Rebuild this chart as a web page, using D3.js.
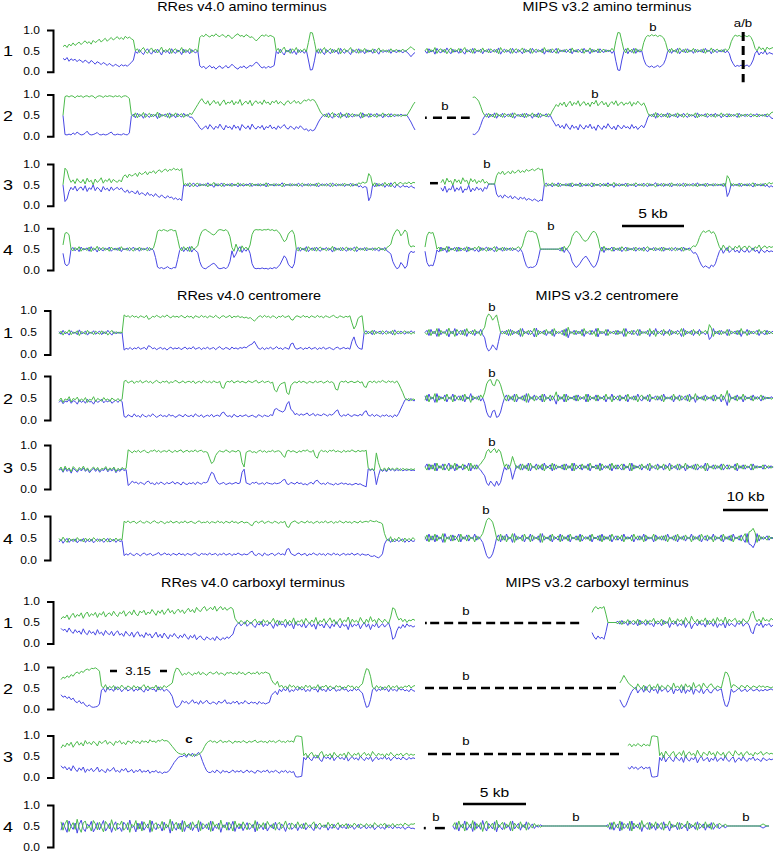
<!DOCTYPE html>
<html><head><meta charset="utf-8">
<script src="https://cdn.jsdelivr.net/npm/d3@7"></script>
<style>body{margin:0;background:#fff}svg{display:block}</style>
</head><body>
<script>
// ---------------- DATA (allele fraction x100, one value per window) ----------------
const rowLabels = ["1","2","3","4"];
const tickValues = [0, 0.5, 1];
const sectionTitles = [
  ["RRes v4.0 amino terminus","MIPS v3.2 amino terminus"],
  ["RRes v4.0 centromere","MIPS v3.2 centromere"],
  ["RRes v4.0 carboxyl terminus","MIPS v3.2 carboxyl terminus"]
];
const windowsPerPanel = 176;
// first window that has data in each MIPS panel (missing sequence before it)
const mipsStart = [[0,24,8,0],[0,0,0,0],[84,98,102,14]];

// RRes amino terminus
const rresAmino1G = [60,64,58,66,62,69,63,67,71,65,70,74,68,72,66,75,70,73,78,71,76,80,73,78,82,76,80,84,78,82,77,85,80,83,79,76,
 50,55,46,53,58,49,44,52,57,48,54,45,51,59,47,53,49,56,44,52,55,47,50,58,45,53,49,56,46,51,54,48,
 82,87,84,90,86,83,88,85,91,86,84,89,87,82,88,85,79,84,88,91,85,87,83,89,86,82,84,79,74,78,84,88,85,89,84,87,85,82,
 50,56,45,53,59,47,52,44,55,50,58,46,53,49,55,48, 70,94,93,72,
 47,55,44,52,58,46,51,56,45,53,48,57,43,51,55,47,52,58,46,50,54,44,53,49,56,46,52,48,55,45,50,57,47,53,49,52,46,55,48,51,53,47,50,54,48,52,56,60,55,52];
const rresAmino1B = [32,28,34,25,31,27,30,24,29,26,22,28,24,20,27,23,18,24,21,17,22,19,15,20,16,13,18,15,12,17,14,16,13,18,22,28,
 49,44,53,46,41,50,55,47,42,51,45,54,48,40,52,46,50,43,55,47,44,52,49,41,54,46,50,43,53,48,45,51,
 14,10,13,7,11,15,9,12,6,11,14,8,10,15,9,12,18,13,9,6,12,10,14,8,11,15,13,18,23,20,13,9,12,8,13,10,12,15,
 49,43,54,46,40,52,47,55,44,50,41,53,46,50,44,51, 28,4,5,26,
 52,44,55,47,41,53,48,43,54,46,51,42,56,48,44,52,47,41,53,49,45,55,46,50,43,53,47,51,44,54,49,42,52,46,50,47,53,44,51,48,46,52,49,45,51,47,42,36,42,46];
const rresAmino2G = [50,95,97,94,97,96,92,97,95,97,93,96,97,94,97,96,91,95,97,96,93,97,95,97,96,94,97,95,97,93,96,97,95,90,
 52,47,56,44,53,49,57,45,51,55,46,53,48,58,44,52,50,47,55,43,53,49,56,46,51,54,45,52,48,55,
 52,60,68,76,84,90,
 82,77,85,74,80,86,78,83,73,81,87,76,82,79,86,75,83,78,88,74,80,84,77,86,73,81,85,78,83,76,87,79,82,75,84,80,86,77,83,79,74,82,85,78,81,86,79,84,77,82,87,84,89,85,88,86,
 78,68,58,52,
 47,54,44,52,57,46,50,55,43,53,48,56,45,51,54,47,52,49,57,44,53,48,55,46,50,53,45,52,49,56,47,51,54,46,50,53,48,52,47,51,49,50,
 58,66,75,82];
const rresAmino2B = [50,4,3,5,3,8,4,10,6,3,4,7,12,5,3,4,6,9,4,3,5,3,4,7,10,4,3,5,4,3,6,4,3,8,
 48,53,44,55,47,51,43,54,49,45,53,47,52,42,55,48,50,53,45,56,47,51,44,54,49,46,55,48,52,45,
 46,40,34,28,20,16,
 20,25,17,28,22,16,24,19,29,21,15,26,20,23,16,27,19,24,14,28,22,18,25,16,29,21,17,24,19,26,15,23,20,27,18,22,16,25,19,23,28,20,17,24,21,16,23,18,25,20,15,18,12,16,13,15,
 24,34,42,48,
 53,46,56,48,43,54,50,45,57,47,52,44,55,49,46,53,48,51,43,56,47,52,45,54,50,47,55,48,51,44,53,49,46,54,50,47,52,48,53,49,51,50,
 42,34,24,15];
const rresAmino3G = [50,90,84,66,
 56,62,53,65,58,55,63,52,66,57,61,50,64,56,60,67,54,62,58,65,55,63,59,56,62,57,
 70,74,67,76,71,73,78,70,80,75,77,82,74,81,79,84,77,83,86,80,85,88,82,87,85,90,86,88,84,89,
 50,53,47,55,49,46,52,54,47,51,48,53,45,52,50,56,47,53,49,46,54,50,48,53,46,52,49,55,47,51,53,48,50,46,54,49,52,47,53,50,48,55,46,51,49,53,47,52,50,45,54,49,51,47,53,48,52,46,50,54,48,51,47,53,49,52,46,55,50,48,52,47,51,54,46,50,53,48,52,47,54,49,51,46,53,50,48,55,52,57,54,56,
 77,70,
 48,55,46,53,50,47,56,49,54,45,52,57,48,54,56,51,55,53,57,52,56,55];
const rresAmino3B = [50,10,16,34,
 44,38,47,35,42,45,37,48,34,43,39,50,36,44,40,33,46,38,42,35,45,37,41,44,38,43,
 36,32,38,30,35,33,28,36,26,31,29,24,32,25,27,22,29,23,20,26,21,18,24,19,21,15,19,14,17,12,
 50,47,53,45,51,54,48,46,53,49,52,47,55,48,50,44,53,47,51,54,46,50,52,47,54,48,51,45,53,49,47,52,50,54,46,51,48,53,47,50,52,45,54,49,51,47,53,48,50,55,46,51,49,53,47,52,48,54,50,46,52,49,53,47,51,48,54,45,50,52,48,53,49,46,54,50,47,52,48,53,46,51,49,54,47,50,52,45,48,43,46,44,
 12,22,
 52,45,54,47,50,53,44,51,46,55,48,43,52,46,44,49,45,47,43,48,44,42];
const rresAmino4G = [60,88,90,84,
 50,46,54,48,56,45,52,50,47,55,44,53,49,57,46,51,54,47,52,45,55,50,48,53,46,56,49,51,47,54,50,45,53,48,55,47,52,50,46,54,49,53,
 70,93,96,94,97,95,93,96,97,94,95,75,
 53,46,56,48,55,44,57,49,54,58,
 80,92,96,97,93,90,86,84,88,95,97,96,94,97,92,80,
 54,45,62,50,44,58,50,55,48,60,
 85,95,97,96,97,95,97,96,98,95,97,94,96,92,86,76,68,72,86,92,95,85,
 50,46,55,48,53,44,56,50,47,54,45,52,55,48,50,46,53,49,57,45,52,48,54,46,51,55,47,53,49,45,56,50,48,52,46,54,49,51,47,53,50,55,48,52,46,54,57,62,
 80,90,97,94,82,88,96,90,
 62,55,58,56];
const rresAmino4B = [40,14,10,16,
 50,54,46,52,44,55,48,50,53,45,56,47,51,43,54,49,46,53,48,55,45,50,52,47,54,44,51,49,53,46,50,55,47,52,45,53,48,50,54,46,51,47,
 30,7,4,6,3,5,8,4,3,6,5,25,
 47,54,44,52,45,56,43,51,46,42,
 20,8,4,3,7,10,14,16,12,5,3,4,6,3,8,20,
 46,30,38,50,56,42,50,45,52,40,
 15,5,3,4,3,5,3,4,2,5,3,6,4,8,14,24,34,28,14,8,5,15,
 50,54,45,52,47,56,44,50,53,46,55,48,45,52,50,54,47,51,43,55,48,52,46,54,49,45,53,47,51,55,44,50,52,48,54,46,51,49,53,47,50,45,52,48,54,46,43,38,
 20,10,3,6,18,12,4,10,
 38,45,42,44];

// MIPS amino terminus
const mipsAmino1G = [50,56,45,53,48,58,44,52,55,47,54,43,51,57,46,53,49,56,45,52,58,47,50,54,44,56,49,52,46,57,48,53,45,55,50,47,54,43,58,50,46,53,49,56,44,52,55,47,51,57,45,53,48,56,44,51,54,47,52,45,58,49,53,46,55,50,44,56,48,52,47,54,50,45,57,48,53,46,51,55,44,52,49,57,46,53,48,55,45,51,54,47,52,49,56,50,
 75,94,93,72,
 52,45,57,48,54,44,56,47,53,50,
 70,82,87,85,89,86,88,84,87,85,81,70,
 52,46,56,48,53,44,57,50,47,55,45,52,49,56,46,53,50,47,55,44,52,49,57,46,51,54,48,53,47,55,50,56,
 72,82,88,85,87,84,88,86,84,87,82,72,
 56,50,60,53,57,49,59,54,56,58];
const mipsAmino1B = [50,44,55,47,52,42,56,48,45,53,46,57,49,43,54,47,51,44,55,48,42,53,50,46,56,44,51,48,54,43,52,47,55,45,50,53,46,57,42,50,54,47,51,44,56,48,45,53,49,43,55,47,52,44,56,49,46,53,48,55,42,51,47,54,45,50,56,44,52,48,53,46,50,55,43,52,47,54,49,45,56,48,51,43,54,47,52,45,55,49,46,53,48,51,44,50,
 25,4,3,28,
 48,55,43,52,46,56,44,53,47,50,
 30,18,13,11,14,10,12,15,11,14,19,30,
 48,54,44,52,47,56,43,50,53,45,55,48,51,44,54,47,50,53,45,56,48,51,43,54,49,46,52,47,53,45,50,44,
 28,19,12,15,13,16,11,14,16,12,18,28,
 44,50,40,47,43,51,41,46,44,42];
const mipsAmino2G = [93,94,90,84,72,58,
 50,46,55,47,53,44,56,48,52,45,55,50,47,54,44,56,50,48,53,46,55,45,52,49,56,47,53,44,55,49,51,46,54,50,
 60,68,76,71,80,74,82,70,78,84,73,81,76,85,72,79,83,74,80,71,82,77,86,73,79,84,75,81,70,78,83,76,85,73,79,82,74,80,77,83,72,81,76,84,78,74,80,70,
 56,48,53,46,57,45,51,54,47,53,44,55,49,52,46,56,48,53,45,51,55,47,52,49,56,44,53,48,51,46,55,50,47,53,45,52,49,56,47,51,54,46,53,48,50,55,45,52,49,53,47,51,54,48,50,46,53,49,52,47,54,50,56,58];
const mipsAmino2B = [5,4,8,14,26,40,
 48,54,44,53,46,56,43,52,47,55,45,50,53,46,56,43,50,52,46,54,44,55,48,51,43,53,46,56,45,51,49,54,46,50,
 40,32,24,29,20,26,18,30,22,16,27,19,24,15,28,21,17,26,20,29,18,23,14,27,21,16,25,19,30,22,17,24,15,27,21,18,26,20,23,17,28,19,24,16,22,26,20,30,
 44,52,47,54,43,55,49,46,53,47,56,45,51,48,54,44,52,47,55,49,45,53,48,51,44,56,47,52,49,54,45,50,53,47,55,48,51,44,53,49,46,54,47,52,50,45,55,48,51,47,53,49,46,52,50,54,47,51,48,53,46,50,44,42];
const mipsAmino3G = [55,63,51,66,57,60,49,64,56,62,52,67,58,61,50,65,57,63,53,60,56,64,54,58,
 52,52,52,52,
 72,80,76,83,74,79,82,76,84,78,81,86,79,84,80,87,83,85,88,84,87,90,86,88,
 50,46,53,48,55,47,52,45,54,49,51,47,53,46,55,50,48,52,45,54,49,53,47,51,55,46,52,48,54,50,47,53,45,52,49,56,47,51,53,48,50,46,54,49,52,47,55,50,48,53,46,51,54,47,52,49,45,53,50,47,54,48,52,46,55,49,51,47,53,50,46,54,48,52,49,47,53,45,52,50,48,54,46,51,49,53,47,52,50,48,54,46,72,65,47,53,49,52,46,54,50,48,53,47,51,55,46,52,49,53,47,54,50,56,52,55];
const mipsAmino3B = [43,35,47,32,41,38,50,34,43,37,46,31,40,38,49,33,42,36,45,38,42,34,44,40,
 52,52,52,52,
 28,21,25,18,26,22,19,24,16,22,19,14,21,16,20,13,17,15,12,16,13,10,14,12,
 50,54,47,52,45,53,48,55,46,51,49,53,47,54,45,50,52,48,55,46,51,47,53,49,45,54,48,52,46,50,53,47,55,48,51,44,53,49,47,52,50,54,46,51,48,53,45,50,52,47,54,49,46,53,48,51,55,47,50,53,46,52,48,54,45,51,49,53,47,50,54,46,52,48,51,53,47,55,48,50,52,46,54,49,51,47,53,48,50,52,46,54,22,32,53,47,51,48,54,46,50,52,47,53,49,45,54,48,51,47,53,46,50,44,48,45];
const mipsAmino4G = [55,82,91,88,90,74,
 50,55,45,53,48,57,44,52,50,46,55,45,53,49,47,56,45,52,48,55,50,57,46,53,49,45,54,47,52,56,44,51,48,55,46,53,50,47,54,49,52,56,50,58,
 76,90,94,92,93,90,88,72,
 50,50,50,50,50,50,50,50,50,50,
 53,45,57,48,55,62,
 80,88,93,90,84,76,70,69,74,82,90,93,88,76,
 53,45,57,47,52,50,45,55,48,53,46,56,50,45,54,48,52,46,55,49,47,53,45,52,56,48,51,46,54,49,53,45,55,48,51,47,54,50,46,53,48,55,45,52,50,47,54,58,56,64,
 78,88,94,90,93,95,88,92,85,70,
 56,48,60,52,46,58,53,48,57,52,59,49,55,57,50,58,53,47,56,52,60,50,55,58,52,57,54,56];
const mipsAmino4B = [45,18,9,12,10,25,
 48,43,55,46,52,42,56,48,50,54,44,55,46,50,53,43,55,48,52,45,50,43,54,47,51,55,46,53,48,44,56,49,52,45,54,47,50,53,46,51,48,44,50,42,
 24,10,5,7,6,8,12,28,
 50,50,50,50,50,50,50,50,50,50,
 46,55,42,52,45,38,
 20,12,6,10,16,24,30,33,26,18,10,6,12,24,
 46,55,42,53,48,50,55,45,52,47,54,44,50,55,46,52,48,54,45,51,53,47,55,48,44,52,49,54,46,51,47,55,45,52,49,53,46,50,54,47,52,45,55,48,50,53,46,40,42,35,
 22,12,6,10,7,4,12,8,15,30,
 44,52,40,48,54,42,47,52,43,48,41,51,45,43,50,42,47,53,44,48,40,50,45,42,48,43,46,44];

// RRes centromere
const rresCen1G = [47,53,44,52,49,56,45,51,48,54,43,52,50,46,55,48,51,45,53,49,46,54,47,52,44,50,55,47,52,48,51,49,
 90,86,88,84,89,85,87,83,88,86,84,89,80,82,87,85,89,86,84,88,85,90,86,83,88,85,87,84,89,86,83,88,85,87,82,88,86,84,89,85,87,83,88,86,84,89,85,82,87,88,84,86,89,83,87,85,88,84,86,83,85,82,84,80,76,80,86,88,84,89,85,87,83,88,86,82,87,85,89,84,86,88,80,78,85,88,86,84,89,85,87,83,88,86,84,89,85,87,83,88,86,84,87,89,85,83,88,86,84,87,85,88,72,58,66,82,86,88,
 50,46,53,48,55,45,52,49,47,54,50,46,52,48,55,44,51,53,47,50,54,48,52,46,50,48];
const rresCen1B = [52,46,55,47,50,44,54,48,51,45,56,47,49,53,44,51,48,54,46,50,53,45,52,47,55,49,44,52,47,51,48,50,
 10,14,12,16,11,15,13,17,12,14,16,11,20,18,13,15,11,14,16,12,15,10,14,17,12,15,13,16,11,14,17,12,15,13,18,12,14,16,11,15,13,17,12,14,16,11,15,18,13,12,16,14,11,17,13,15,12,16,14,17,15,19,22,24,30,22,14,12,16,11,15,13,17,12,14,18,13,15,11,16,14,12,24,26,15,12,14,16,11,15,13,17,12,14,16,11,15,13,17,12,14,16,13,11,15,17,12,14,16,13,15,12,30,40,24,16,13,12,
 50,54,47,52,45,55,48,51,53,46,50,54,48,52,45,56,49,47,53,50,46,52,48,54,50,52];
const rresCen2G = [44,50,40,48,45,53,41,49,46,52,42,48,44,51,40,47,45,53,42,49,46,43,51,45,48,42,50,46,44,49,43,47,
 88,90,84,87,89,83,88,86,90,84,87,89,85,88,83,87,90,86,84,88,86,89,83,87,85,90,88,84,86,89,84,87,88,85,89,83,86,88,84,90,87,85,88,84,89,86,85,88,
 74,72,
 85,88,86,90,84,87,89,85,88,86,84,89,87,85,88,90,84,86,89,85,87,88,84,86,
 68,64,76,82,84,86, 62,58,78,84,
 87,84,89,85,88,86,83,88,86,84,89,85,87,88,84,86,89,85,87,84,
 70,68,
 85,88,86,89,84,87,88,85,86,89,84,87,
 76,74,
 86,88,85,89,84,88,86,90,87,85,89,86,88,84,89,82,72,62,
 50,45,49,44,48,46];
const rresCen2B = [40,45,37,43,41,47,38,44,42,36,46,40,44,38,47,41,42,36,45,40,43,47,39,44,41,46,38,42,45,40,46,42,
 8,6,12,9,7,14,8,10,6,13,9,7,11,8,14,10,6,9,12,8,10,7,13,9,11,6,8,12,10,7,13,9,8,11,7,14,10,8,12,6,9,11,8,13,7,10,11,8,
 16,18,
 11,8,10,6,13,9,7,11,8,10,12,7,9,11,8,6,12,10,7,11,9,8,12,10,
 24,26,22,20,18,22, 36,42,24,20,
 12,15,10,14,11,13,16,10,12,15,9,13,11,10,14,12,9,13,11,14,
 20,23,
 11,8,12,9,14,10,8,12,11,9,13,10,
 18,21,
 11,9,13,8,12,10,7,11,9,12,8,10,6,12,8,15,25,35,
 45,48,43,49,44,44];
const rresCen3G = [44,50,40,52,43,48,39,51,46,41,49,44,52,42,48,40,46,50,43,49,41,47,45,51,42,48,44,50,40,47,43,49,45,47,
 89,86,82,87,84,88,83,86,88,84,82,87,86,89,84,88,83,86,87,84,89,85,83,88,84,87,89,83,86,88,84,87,85,89,84,87,88,84,85,83,
 70,58,62,76,
 83,87,85,84,89,86,83,87,86,84,88,85,
 60,50,
 83,86,87,83,85,82,86,88,84,87,83,86,85,88,84,86,87,84,
 76,72,
 86,88,84,87,85,82,87,84,88,86,89,85,84,88,
 74,70,
 84,88,85,87,83,88,86,89,84,87,85,83,88,84,87,85,89,86,84,88,85,87,86,88,
 48,44,46,42,82,60,46,42,48,41,49,44,47,43,48,45,42,47,44,46,43,46,44,46];
const rresCen3B = [43,46,38,48,40,45,36,47,43,38,46,41,48,40,45,37,43,47,40,46,38,44,42,48,39,45,41,47,37,44,40,46,42,44,
 8,12,18,14,16,11,15,13,10,16,18,12,14,9,15,11,16,13,10,15,12,14,17,11,15,13,9,16,12,10,14,12,15,10,16,13,11,15,14,16,
 28,38,35,22,
 14,11,13,15,10,12,14,11,13,15,12,14,
 38,45,
 14,12,10,15,13,16,11,12,14,10,15,13,12,11,14,12,13,15,
 20,22,
 12,10,15,13,11,16,12,14,10,12,9,13,15,11,
 18,20,
 14,11,13,10,15,12,11,9,13,10,12,14,11,13,10,12,9,11,13,10,12,9,7,5,
 46,42,45,40,10,30,45,40,44,39,46,42,45,41,44,42,46,41,44,42,45,42,43,42];
const rresCen4G = [49,43,52,45,40,50,44,48,42,51,45,47,41,50,44,49,43,51,46,42,48,44,50,45,41,49,46,43,50,44,48,46,
 88,85,89,84,87,88,83,86,89,85,84,88,86,83,87,89,85,84,88,86,82,87,85,89,84,86,88,83,87,85,89,84,86,88,85,83,87,89,84,86,85,88,83,87,86,84,89,85,87,83,88,86,84,89,85,87,83,86,88,84,86,85,
 80,78,
 86,88,84,87,89,83,86,88,85,84,88,86,83,87,85,88,
 76,74,
 84,87,89,85,83,88,86,84,89,85,87,83,86,88,84,87,85,89,84,86,88,83,87,85,89,86,84,88,85,87,83,88,86,84,89,85,87,88,86,90,88,87,89,86,85,82,
 60,48,43,53,41,49,44,52,46,42,50,44,49,45,51,46];
const rresCen4B = [41,47,38,45,49,40,46,42,48,39,45,43,49,40,46,41,47,39,44,48,42,46,40,45,49,41,44,47,40,46,42,44,
 10,14,11,16,12,10,15,13,9,14,16,11,13,15,10,12,14,17,11,13,16,12,14,10,15,13,11,16,12,14,10,15,13,11,14,16,12,10,15,13,14,11,16,12,13,15,10,14,12,16,11,13,15,10,14,12,16,13,11,14,12,13,
 18,20,
 12,10,15,13,9,16,12,11,14,15,10,13,16,12,14,11,
 24,26,
 15,12,10,14,16,11,13,15,9,14,12,16,13,11,15,12,14,10,15,13,11,16,12,14,10,13,15,11,14,12,16,11,13,15,10,14,12,11,13,9,8,10,7,5,8,14,
 36,45,48,40,47,41,46,42,45,48,40,46,41,45,42,44];

// MIPS centromere
const mipsCen1G = [50,45,57,43,53,47,59,41,55,48,52,43,60,47,53,41,57,50,45,55,43,59,48,53,45,57,47,52,43,55,
 62,84,92,88,78,84,90,70,
 50,47,53,45,57,43,55,48,52,45,59,41,53,48,55,45,50,60,40,55,47,52,45,57,48,53,43,59,47,52,50,45,57,41,62,48,52,45,55,47,53,43,59,48,50,55,45,52,41,60,47,53,48,57,43,52,50,47,55,45,53,48,59,41,52,47,55,45,50,57,43,53,48,52,45,59,47,55,41,53,50,45,57,47,52,43,55,48,53,45,50,59,41,55,47,52,45,57,48,53,43,52,50,55,47,68,60,41,53,47,55,45,52,48,57,43,53,50,47,55,45,59,48,52,43,55,47,53,50,45,57,48,52,55,45,53,50,47];
const mipsCen1B = [50,55,43,57,47,53,41,59,45,52,48,57,40,53,47,59,43,50,55,45,57,41,52,47,55,43,53,48,57,45,
 38,16,8,12,22,16,10,30,
 50,53,47,55,43,57,45,52,48,55,41,59,47,52,45,55,50,40,60,45,53,48,55,43,52,47,57,41,53,48,50,55,43,59,38,52,48,55,45,53,47,57,41,52,50,45,55,48,59,40,53,47,52,43,57,48,50,53,45,55,47,52,41,59,48,53,45,55,50,43,57,47,52,48,55,41,53,45,59,47,50,55,43,53,48,57,45,52,47,55,50,41,59,45,53,48,55,43,52,47,57,48,50,45,53,34,40,59,47,53,45,55,48,52,43,57,47,50,53,45,55,41,52,48,57,45,53,47,50,55,43,52,48,45,55,47,50,53];
const mipsCen2G = [45,57,41,53,48,60,40,55,47,52,43,59,48,53,41,57,50,45,55,43,59,47,52,40,55,48,53,45,57,50,
 62,82,90,92,80,78,92,90,80,64,
 50,43,57,47,55,41,59,48,52,45,57,40,60,47,53,43,55,50,45,59,41,53,48,57,45,52,64,43,53,47,59,41,55,48,52,45,57,43,53,50,47,59,41,55,48,53,43,57,47,52,45,59,48,53,41,55,50,45,57,47,52,43,59,48,53,45,55,41,52,57,47,53,43,59,48,50,45,55,47,57,41,53,48,52,45,59,47,53,43,55,50,45,57,41,53,48,60,45,52,47,55,43,53,50,47,57,43,52,48,59,45,53,67,40,52,48,55,43,53,47,59,45,52,48,55,43,53,47,50,57,45,53,48,52,47,50];
const mipsCen2B = [55,43,59,47,52,40,60,45,53,48,57,41,52,47,59,43,50,55,45,57,41,53,48,60,45,52,47,55,43,50,
 38,18,8,6,20,22,6,8,18,36,
 50,57,43,53,45,59,41,52,48,55,43,60,40,53,47,57,45,50,55,41,59,47,52,43,55,48,36,57,47,53,41,59,45,52,48,55,43,57,47,50,53,41,59,45,52,47,57,43,53,48,55,41,52,47,59,45,50,55,43,53,48,57,41,52,47,55,45,59,48,43,53,47,57,41,52,50,55,45,53,43,59,47,52,48,55,41,53,47,57,45,50,55,43,59,47,52,40,55,48,53,45,57,47,50,53,43,57,48,52,41,55,47,33,60,48,52,45,57,47,53,41,55,48,52,45,57,47,53,50,43,55,47,52,48,53,50];
const mipsCen3G = [50,43,57,45,55,41,59,47,53,43,57,50,41,55,47,59,43,53,48,57,45,52,41,59,47,55,45,53,57,64,
 70,85,90,82,88,92,82,90,84,66,
 50,57,45,55,74,60,47,53,43,57,47,55,41,59,48,52,43,55,47,57,41,53,50,45,59,43,55,48,52,45,57,43,53,47,59,41,55,50,45,57,47,53,43,59,48,52,45,55,41,57,50,47,53,43,59,47,55,45,52,57,43,53,48,59,41,55,47,52,45,57,48,53,43,59,47,50,55,43,53,48,57,45,52,41,55,50,47,57,43,53,48,59,45,52,47,55,43,57,50,47,53,41,59,48,52,45,55,47,53,43,57,50,45,55,48,52,43,59,47,53,45,55,48,50,57,43,53,47,52,48,55,45,50,53,47,52];
const mipsCen3B = [50,57,43,55,45,59,41,53,47,57,43,50,59,45,53,41,57,47,52,43,55,48,59,41,53,45,55,47,43,36,
 30,14,8,18,12,6,18,8,15,34,
 50,43,55,45,22,38,53,47,57,43,53,45,59,41,52,48,57,45,53,43,59,47,50,55,41,57,45,52,48,55,43,57,47,53,41,59,45,50,55,43,53,47,57,41,52,48,55,45,59,43,50,53,47,57,41,53,45,55,48,43,57,47,52,41,59,45,53,48,55,43,52,47,57,41,53,50,45,57,47,52,43,55,48,59,45,50,53,43,57,47,52,41,55,48,53,45,57,43,50,53,47,59,41,52,48,55,45,53,47,57,43,50,55,45,52,48,57,41,53,47,55,45,52,50,43,57,47,53,48,52,45,55,50,47,53,48];
const mipsCen4G = [47,57,41,55,45,59,43,53,48,60,40,52,47,57,43,55,50,41,59,47,53,43,57,48,52,41,55,47,53,60,
 75,90,95,92,86,70,
 50,43,59,45,55,41,53,48,60,40,55,47,52,43,59,48,53,41,57,47,52,45,60,40,55,48,53,43,59,47,50,55,41,57,47,53,43,59,48,52,45,55,41,57,50,47,53,43,59,48,52,45,57,41,55,47,53,43,59,50,45,55,48,57,41,53,47,52,43,59,48,55,45,53,41,57,47,52,48,59,43,53,47,55,45,57,41,52,48,55,43,59,47,53,45,57,48,52,41,55,47,53,43,59,50,45,57,47,53,41,55,48,52,43,59,47,53,45,57,41,52,48,55,43,53,60,40,64,66,72,62,40,57,47,53,50,45,55,48,52];
const mipsCen4B = [53,43,59,45,55,41,57,47,52,40,60,48,53,43,57,45,50,59,41,53,47,57,43,52,48,59,45,53,47,40,
 25,10,4,6,14,30,
 50,57,41,55,45,59,47,52,40,60,45,53,48,57,41,52,47,59,43,53,48,55,40,60,45,52,47,57,41,53,50,45,59,43,53,47,57,41,52,48,55,45,59,43,50,53,47,57,41,52,48,55,43,59,45,53,47,57,41,50,55,45,52,43,59,47,53,48,57,41,52,45,55,47,59,43,53,48,52,41,57,47,53,45,55,43,59,48,52,45,57,41,53,47,55,43,52,48,59,45,53,47,57,41,50,55,43,53,47,59,45,52,48,57,41,53,47,55,43,59,48,52,45,57,47,40,60,36,34,28,38,60,43,53,47,50,55,45,52,48];

// RRes carboxyl terminus
const rresCarb1G = [58,64,61,68,57,66,72,62,69,65,73,60,70,75,64,71,67,74,62,72,68,76,63,70,73,66,77,69,64,74,71,78,65,72,76,68,80,70,66,77,73,79,68,75,71,81,74,67,78,72,80,69,76,83,73,79,70,77,82,74,80,71,78,84,75,81,73,86,79,76,84,88,78,82,86,80,89,77,84,88,80,86,79,83,86,82,
 60,52,48,55,50,46,56,51,47,54,58,49,53,45,57,50,55,47,52,60,48,56,44,53,50,58,46,55,49,61,45,54,51,57,47,60,52,48,56,50,62,46,55,51,59,48,54,61,50,57,46,53,60,49,56,52,63,47,58,51,55,49,62,53,47,58,50,64,52,57,48,60,54,50,58,52,48,63,85,82,66,56,60,52,58,50,56,54,58,55];
const rresCarb1B = [36,31,34,27,37,29,24,33,26,30,22,35,25,21,31,24,28,20,33,23,27,19,31,24,21,29,18,26,30,20,24,17,29,22,18,27,15,24,28,17,21,14,26,19,23,13,20,27,15,22,13,25,18,11,21,16,24,17,12,20,14,23,16,10,19,13,21,9,15,18,11,8,16,12,9,14,7,17,11,8,14,10,16,12,18,22,
 38,45,50,42,47,52,41,46,51,43,38,48,44,53,40,47,42,50,45,36,49,41,54,44,47,38,51,42,48,35,52,43,46,39,50,37,45,49,40,47,34,51,42,46,37,49,43,36,47,40,52,44,37,48,41,45,33,50,39,46,42,48,35,44,50,39,47,33,45,40,49,37,43,47,39,45,49,34,10,14,30,40,36,45,38,47,41,43,39,42];
const rresCarb2G = [70,76,73,79,75,82,78,85,88,84,90,87,93,95,92,97,96,98,95,90,
 55,50,58,47,54,50,56,46,53,49,57,51,47,55,52,48,56,50,54,46,53,58,49,55,47,52,50,57,45,53,49,56,51,55,58,62,
 85,97,96,88,
 80,85,82,88,84,80,86,83,89,81,87,84,80,86,88,83,85,89,82,86,84,80,87,85,88,83,86,82,89,84,87,81,85,88,83,86,84,89,82,87,85,88,86,84,
 70,62,58,66,52,57,50,55,48,58,52,56,50,55,47,54,49,57,51,56,48,53,50,58,46,54,52,57,49,55,51,48,56,52,55,47,53,50,57,52,55,48,54,50,56,60,
 80,96,94,78,
 52,48,56,50,54,46,53,50,57,48,54,51,56,47,53,50,55,52,57,50,54,56];
const rresCarb2B = [34,28,31,25,29,22,26,18,15,20,13,16,9,6,10,5,4,5,6,12,
 45,49,40,52,45,48,42,53,46,49,41,47,51,43,46,50,42,48,44,52,45,40,49,43,51,46,48,41,53,45,49,42,47,44,38,30,
 12,4,5,10,
 20,15,18,12,16,22,14,17,11,20,13,16,21,14,12,17,15,11,19,14,16,22,13,15,12,18,14,19,11,16,13,20,15,12,17,14,16,11,18,13,15,12,14,16,
 32,38,42,34,47,41,49,43,51,40,46,42,49,44,52,45,49,41,47,42,51,46,48,40,53,44,47,41,50,43,48,51,42,46,44,52,45,48,41,46,43,50,44,48,42,38,
 20,4,6,22,
 46,50,42,48,44,52,45,49,41,50,44,47,42,51,45,48,43,46,41,48,44,42];
const rresCarb3G = [70,78,73,82,76,84,72,80,86,77,83,75,88,80,84,78,86,82,75,87,81,84,89,79,85,82,76,86,83,88,80,84,78,87,85,81,89,83,86,80,88,84,87,82,90,85,87,83,89,86,91,87,88,86,
 80,74,68,62,58,56,
 55,58,52,57,54,50,56,52,55,58,
 64,74,82,86,
 88,84,87,82,86,89,83,86,84,88,85,81,87,84,86,83,88,85,82,87,84,86,89,83,85,87,84,86,82,88,85,87,83,86,89,84,86,83,88,85,87,84,
 98,99,98,97,
 52,58,47,56,60,50,54,46,58,62,49,55,51,57,47,60,53,49,56,52,58,48,61,54,50,57,53,59,49,55,60,52,57,50,62,55,51,58,53,56,49,57,52,60,54,50,56,53,58,51,55,58,52,56,53,55];
const rresCarb3B = [28,22,26,18,24,16,28,20,14,23,17,25,12,20,16,22,14,18,25,13,19,16,11,21,15,18,24,14,17,12,20,16,22,13,15,19,11,17,14,20,12,16,13,18,10,15,13,17,11,14,9,13,12,14,
 20,28,36,42,48,50,
 50,54,48,56,52,58,50,55,60,52,
 38,26,16,12,
 12,16,11,18,14,10,17,13,15,11,14,18,12,16,13,17,11,14,18,12,16,13,10,17,15,12,16,14,18,11,15,13,17,14,10,16,13,17,11,15,12,14,
 2,1,2,3,
 48,42,52,44,40,50,46,53,42,38,51,45,49,43,53,40,47,51,44,48,42,52,39,46,50,43,47,41,51,45,40,48,43,50,38,45,49,42,47,44,51,43,48,40,46,50,44,47,42,49,45,42,48,44,47,45];
const rresCarb4G = [60,40,55,64,37,50,58,42,66,45,35,57,62,44,50,38,63,55,41,59,47,36,61,53,43,65,48,39,57,52,62,40,46,58,35,54,49,63,42,56,38,60,51,45,64,37,53,58,44,49,61,40,55,47,66,38,52,59,43,57,36,62,48,54,41,60,50,45,63,39,56,52,44,58,37,61,49,55,42,64,46,53,40,59,51,38,62,47,56,44,60,50,41,57,53,45,63,39,55,48,58,43,61,52,46,56,40,54,59,44,50,62,47,42,57,53,45,60,49,55,43,58,51,46,54,60,44,52,57,48,53,46,59,50,55,45,52,58,47,54,50,56,44,53,49,57,51,46,55,52,48,56,50,54,47,58,52,49,55,51,57,46,53,50,56,48,54,52,55,50,57,53,51,55,54,56];
const rresCarb4B = [40,58,46,35,62,49,42,57,33,54,64,44,37,55,49,61,36,45,58,41,52,63,38,46,56,35,51,60,42,47,37,59,53,41,64,46,50,36,57,43,61,40,48,55,35,62,47,41,55,50,38,59,45,52,33,61,47,40,56,42,63,37,51,45,58,39,49,54,36,60,43,47,55,41,62,38,50,44,57,35,53,46,59,40,48,61,37,52,43,55,39,49,58,42,46,54,36,60,44,51,41,56,38,47,53,43,59,45,40,55,49,37,52,57,42,46,54,39,50,44,56,41,48,53,45,39,55,47,42,51,46,53,40,49,44,54,47,41,52,45,49,43,55,46,50,42,48,54,44,47,51,43,49,45,52,41,47,50,44,48,42,53,46,49,43,51,45,47,44,49,42,46,48,44,45,43];

// MIPS carboxyl terminus
const mipsCarb1G = [74,84,88,82,86,84,88,70, 50,50,50,50,
 50,47,54,45,53,49,57,46,52,55,48,58,44,53,50,57,46,55,52,60,47,54,50,58,45,53,48,62,50,55,47,59,52,57,46,62,53,48,65,55,50,58,47,56,52,61,45,55,50,59,48,62,53,57,50,63,48,58,52,56,60,50,55,47,59,53,50,57,72,77,60,52,58,50,62,54,57,52,60,56];
const mipsCarb1B = [26,16,10,18,12,15,10,28, 50,50,50,50,
 50,53,46,55,47,51,43,54,48,45,52,42,56,47,50,43,54,45,48,40,53,46,50,42,55,47,52,38,50,45,53,41,48,43,54,38,47,52,35,45,50,42,53,44,48,39,55,45,50,41,52,38,47,43,50,37,52,42,48,44,40,50,45,53,41,47,50,43,28,23,40,48,42,50,38,46,43,48,40,44];
const mipsCarb2G = [62,70,80,72,64,58,
 55,50,47,60,52,48,57,44,53,58,46,54,50,60,45,56,52,48,57,53,47,62,50,55,49,58,45,60,52,56,46,63,50,55,58,48,62,54,50,57,60,52,48,55,52,50,70,88,86,75,50,58,56,52,48,56,54,50,57,52,49,55,53,50,56,52,55,51,54,52,50,53];
const mipsCarb2B = [22,12,4,8,20,32,
 42,48,52,38,46,50,40,54,44,39,52,43,48,37,53,42,46,50,40,44,51,36,48,43,49,38,53,37,46,41,52,35,48,43,39,50,36,44,48,40,38,46,50,43,46,48,25,8,6,20,48,40,42,46,50,42,44,48,41,46,49,43,45,48,42,46,43,47,44,46,48,45];
const mipsCarb3G = [76,80,73,79,75,81,77,74,80,76,78,75, 98,99,98,97,
 52,60,47,63,55,50,58,62,49,56,60,52,64,48,57,61,53,58,50,65,55,49,60,57,52,63,54,59,50,62,56,53,60,48,58,62,55,51,64,57,53,60,50,58,62,54,57,51,60,55,58,62,53,57,60,55,58,56];
const mipsCarb3B = [24,20,27,21,25,19,23,26,20,24,22,25, 2,1,2,3,
 48,40,53,37,45,50,42,38,51,44,40,48,36,52,43,39,47,42,50,35,45,51,40,43,48,37,46,41,50,38,44,47,40,52,42,38,45,49,36,43,47,40,50,42,38,46,43,49,40,45,42,38,47,43,40,45,42,44];
const mipsCarb4G = [50,58,42,62,47,55,38,60,52,45,63,40,56,48,58,37,54,62,44,50,57,40,64,46,53,59,42,55,48,61,38,57,50,44,60,47,54,40,58,51,45,56,49,53,47,50,
 50,50,50,50,50,50,50,50,50,50,50,50,50,50,50,50,50,50,50,50,50,50,50,50,50,50,50,50,50,50,50,50,
 47,58,42,60,50,45,62,40,56,52,44,61,38,57,49,55,42,63,47,53,58,41,56,48,60,44,52,58,40,55,50,62,45,53,48,59,42,57,51,46,62,43,54,49,58,40,56,52,45,60,47,55,42,58,50,46,57,52,48,55,50,50,
 50,50,50,50,50,50,50,50,50,50,50,50,50,50,50,52,55,52,50,50];
const mipsCarb4B = [50,42,58,38,53,45,62,40,48,55,37,60,44,52,42,63,46,38,56,50,43,60,36,54,47,41,58,45,52,39,62,43,50,56,40,53,46,60,42,49,55,44,51,47,53,50,
 50,50,50,50,50,50,50,50,50,50,50,50,50,50,50,50,50,50,50,50,50,50,50,50,50,50,50,50,50,50,50,50,
 53,42,58,40,50,55,38,60,44,48,56,39,62,43,51,45,58,37,53,47,42,59,44,52,40,56,48,42,60,45,50,38,55,47,52,41,58,43,49,54,38,57,46,51,42,60,44,48,55,40,53,45,58,42,50,54,43,48,52,45,50,50,
 50,50,50,50,50,50,50,50,50,50,50,50,50,50,50,48,45,48,50,50];

// missing-sequence markers, in window units: [section,row,from,to,value]
const gapDashes = [[0,1,4,22.5,0.44],[2,0,2.6,79,0.49],[2,1,0,96.6,0.5],[2,2,1.5,99,0.56]];
const gapTicks  = [[0,2,2.5,6.5,0.54],[2,3,5,10,0.45],[0,1,0,0.9,0.44],[2,0,0,0.9,0.49],[2,3,-0.6,0.4,0.45]];
const gapVertical = [[0,0,160,0.95,-0.25]];

// ---------------- TABLES ----------------
const leftData = [
  [[rresAmino1G,rresAmino1B],[rresAmino2G,rresAmino2B],[rresAmino3G,rresAmino3B],[rresAmino4G,rresAmino4B]],
  [[rresCen1G,rresCen1B],[rresCen2G,rresCen2B],[rresCen3G,rresCen3B],[rresCen4G,rresCen4B]],
  [[rresCarb1G,rresCarb1B],[rresCarb2G,rresCarb2B],[rresCarb3G,rresCarb3B],[rresCarb4G,rresCarb4B]]
];
const rightData = [
  [[mipsAmino1G,mipsAmino1B],[mipsAmino2G,mipsAmino2B],[mipsAmino3G,mipsAmino3B],[mipsAmino4G,mipsAmino4B]],
  [[mipsCen1G,mipsCen1B],[mipsCen2G,mipsCen2B],[mipsCen3G,mipsCen3B],[mipsCen4G,mipsCen4B]],
  [[mipsCarb1G,mipsCarb1B],[mipsCarb2G,mipsCarb2B],[mipsCarb3G,mipsCarb3B],[mipsCarb4G,mipsCarb4B]]
];

// ---------------- LAYOUT ----------------
const W = 778, H = 853;
const SECT = [
  {titleY:11,  titleX:[242,607], tops:[30,94.5,164,228.3], h:41.7, xL:[63,415], axisX:53},
  {titleY:300, titleX:[249,607], tops:[310.5,376,445,516], h:44,   xL:[59,415], axisX:50},
  {titleY:587, titleX:[253,597], tops:[601.5,667,735.5,805], h:42, xL:[61,415], axisX:53}
];
const XR = [425,773];
const GREEN = "#4cbb4c", BLUE = "#4848e4";
const FONT = "'Liberation Sans', Arial, Helvetica, sans-serif";
const SX = 1.2;

const svg = d3.select("body").append("svg").attr("width",W).attr("height",H);
svg.append("rect").attr("width",W).attr("height",H).attr("fill","#fff");

function label(x, y, t, size, anchor, weight) {
  svg.append("text")
    .attr("transform",`translate(${x},${y}) scale(${SX},1)`)
    .attr("text-anchor",anchor||"middle")
    .attr("font-family",FONT).attr("font-size",size)
    .attr("font-weight",weight||"normal")
    .attr("fill","#000").text(t);
}

const scales = {};

SECT.forEach((L,s) => {
  label(L.titleX[0], L.titleY, sectionTitles[s][0], 12);
  label(L.titleX[1], L.titleY, sectionTitles[s][1], 12);
  for (let r = 0; r < 4; r++) {
    const top = L.tops[r], bottom = top + L.h;
    const y = d3.scaleLinear().domain([0,1]).range([bottom, top]);
    for (let c = 0; c < 2; c++) {
      const x = d3.scaleLinear().domain([0, windowsPerPanel-1]).range(c === 0 ? L.xL : XR);
      scales[`${s}-${r}-${c}`] = {x, y};
      const start = c === 0 ? 0 : mipsStart[s][r];
      const pair = c === 0 ? leftData[s][r] : rightData[s][r];
      const line = d3.line().defined(d => d != null)
        .x((d,i) => x(Math.min(start + i, windowsPerPanel-1))).y(d => y(d/100));
      const g = svg.append("g");
      g.append("path").attr("d", line(pair[1])).attr("fill","none")
        .attr("stroke",BLUE).attr("stroke-width",1).attr("stroke-linejoin","round");
      g.append("path").attr("d", line(pair[0])).attr("fill","none")
        .attr("stroke",GREEN).attr("stroke-width",1).attr("stroke-linejoin","round");
    }
    const ax = d3.axisLeft(y).tickValues(tickValues).tickFormat(d3.format(".1f"))
      .tickSizeInner(0).tickSizeOuter(6).tickPadding(13);
    const ag = svg.append("g").attr("transform",`translate(${L.axisX},0)`).call(ax);
    ag.select(".domain").attr("stroke","#000").attr("stroke-width",2);
    ag.selectAll(".tick line").remove();
    ag.selectAll(".tick text").attr("font-family",FONT).attr("font-size",10)
      .attr("x", -13/SX).attr("transform",`scale(${SX},1)`).attr("fill","#000");
    ag.attr("font-family",FONT);
    label(8, top + L.h/2 + 5.5, rowLabels[r], 15);
  }
});

gapDashes.forEach(([s,r,a,b,v]) => {
  const {x,y} = scales[`${s}-${r}-1`];
  svg.append("line").attr("x1",x(a)).attr("x2",x(b)).attr("y1",y(v)).attr("y2",y(v))
    .attr("stroke","#000").attr("stroke-width",2.5).attr("stroke-dasharray","9,5");
});
gapTicks.forEach(([s,r,a,b,v]) => {
  const {x,y} = scales[`${s}-${r}-1`];
  svg.append("line").attr("x1",x(a)).attr("x2",x(b)).attr("y1",y(v)).attr("y2",y(v))
    .attr("stroke","#000").attr("stroke-width",2.5);
});
gapVertical.forEach(([s,r,i,v1,v2]) => {
  const {x,y} = scales[`${s}-${r}-1`];
  svg.append("line").attr("x1",x(i)).attr("x2",x(i)).attr("y1",y(v1)).attr("y2",y(v2))
    .attr("stroke","#000").attr("stroke-width",3).attr("stroke-dasharray","9,5");
});

const notes = [
  [653,31,"b"],[743,27,"a/b"],[445,110,"b"],[595,98,"b"],[487,168,"b"],[551,230,"b"],
  [492,311,"b"],[492,377,"b"],[492,446,"b"],[486,514,"b"],
  [466,615,"b"],[466,680,"b"],[466,745,"b"],[436,821,"b"],[576,821,"b"],[746,821,"b"],
  [189,743,"c"]
];
notes.forEach(([x,y,t]) => label(x,y,t,11, "middle", t==="c" ? "bold" : "normal"));
label(138, 675, "3.15", 11);
[[110,117],[160,167]].forEach(([a,b]) => svg.append("line").attr("x1",a).attr("x2",b)
  .attr("y1",671).attr("y2",671).attr("stroke","#000").attr("stroke-width",2.5));

const bars = [[622,684,226,"5 kb",218],[723,768,510,"10 kb",501],[463,526,804,"5 kb",797]];
bars.forEach(([a,b,yy,t,ty]) => {
  svg.append("line").attr("x1",a).attr("x2",b).attr("y1",yy).attr("y2",yy)
    .attr("stroke","#000").attr("stroke-width",2.5);
  label((a+b)/2, ty, t, 13);
});
</script>
</body></html>
